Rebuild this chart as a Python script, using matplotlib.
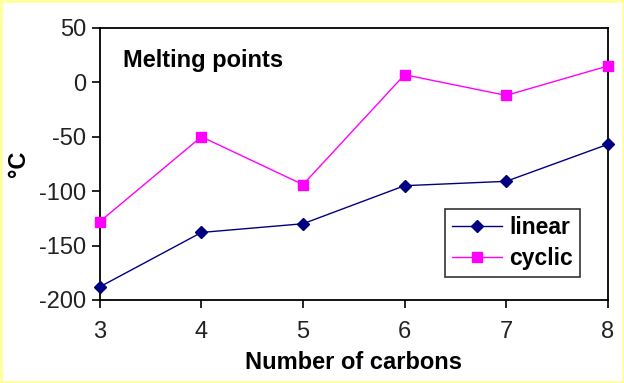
#!/usr/bin/env python3

import matplotlib
matplotlib.use('Agg')
import matplotlib.pyplot as plt
from matplotlib.patches import Rectangle

carbons = [3, 4, 5, 6, 7, 8]
linear = [-188, -138, -130, -95, -91, -57]
cyclic = [-128, -50, -94, 7, -12, 15]

plt.rcParams['font.family'] = ['Liberation Sans', 'DejaVu Sans']
plt.rcParams['axes.unicode_minus'] = False

fig = plt.figure(figsize=(6.24, 3.83), dpi=100)
fig.patch.set_facecolor('white')
fig.patches.append(Rectangle((0.001, 0.002), 0.997, 0.995, transform=fig.transFigure,
                             fill=False, edgecolor='#ffff99', linewidth=2))

ax = fig.add_axes([0.160, 0.217, 0.814, 0.710])

ax.plot(carbons, linear, color='#000080', marker='D', markersize=6, linewidth=1,
        label='linear', clip_on=False, zorder=3)
ax.plot(carbons, cyclic, color='#ff00ff', marker='s', markersize=7, linewidth=1,
        label='cyclic', clip_on=False, zorder=3)

ax.set_xlim(3, 8)
ax.set_ylim(-200, 50)
ax.set_xticks(carbons)
ax.set_yticks(range(-200, 51, 50))
ax.tick_params(direction='out', length=6, width=1.2, labelsize=17, pad=4, labelcolor='#222222')
ax.tick_params(axis='x', pad=9)
for s in ax.spines.values():
    s.set_linewidth(1.3)

ax.set_xlabel('Number of carbons', fontsize=17, fontweight='bold', labelpad=6)
ax.set_ylabel('°C', fontsize=17, fontweight='bold', labelpad=6)

ax.text(0.045, 0.855, 'Melting points', transform=ax.transAxes, fontsize=17, fontweight='bold')

leg = ax.legend(loc='lower right', bbox_to_anchor=(0.945, 0.085),
                prop={'weight': 'bold', 'size': 16.5}, frameon=True, fancybox=False,
                edgecolor='black', handlelength=2.2, handletextpad=0.3,
                borderpad=0.3, labelspacing=0.35, borderaxespad=0)
leg.get_frame().set_linewidth(1.2)

fig.savefig('out.png', dpi=100)
